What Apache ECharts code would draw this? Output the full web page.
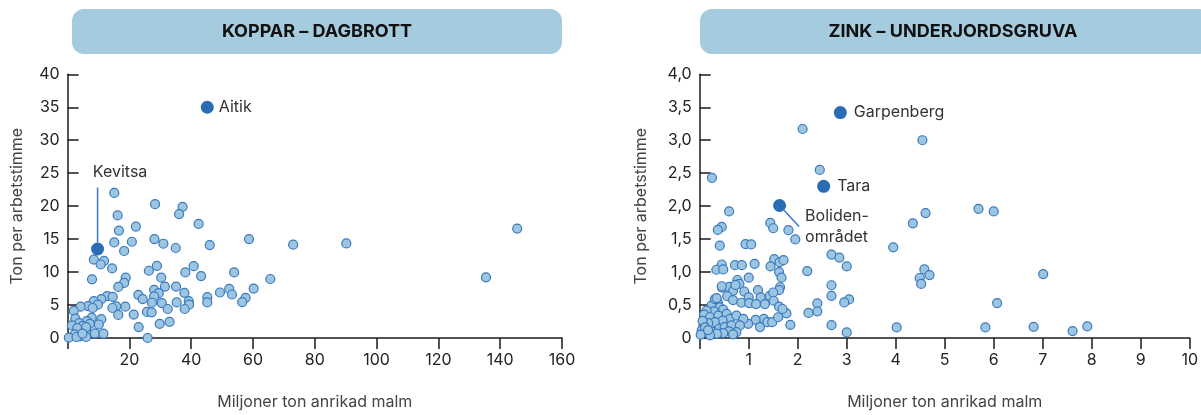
<!DOCTYPE html>
<html>
<head>
<meta charset="utf-8">
<script src="https://cdn.jsdelivr.net/npm/echarts@6/dist/echarts.min.js"></script>
<style>
html,body{margin:0;padding:0;background:#fff;}
#chart{width:1201px;height:415px;}
</style>
</head>
<body>
<div id="chart"></div>
<script>
// ---- Data ----
const copperTitle = 'KOPPAR – DAGBROTT';
const zincTitle = 'ZINK – UNDERJORDSGRUVA';
const xAxisName = 'Miljoner ton anrikad malm';
const yAxisName = 'Ton per arbetstimme';

const copperPoints = [
  [15.1,22.0],[28.3,20.3],[37.2,19.9],[36.1,18.8],[16.2,18.6],[42.4,17.3],[22.1,16.9],[16.6,16.3],
  [58.7,15.0],[28.1,15.0],[15.1,14.5],[20.8,14.6],[31.0,14.3],[46.0,14.1],[73.0,14.15],[35.0,13.65],
  [18.3,13.2],[8.5,11.9],[11.8,11.7],[10.7,11.15],[40.8,10.9],[28.9,10.95],[14.4,10.55],[26.3,10.2],
  [38.1,9.95],[53.9,9.95],[7.9,8.9],[43.2,9.4],[30.3,9.15],[18.8,9.15],[65.6,8.95],[18.3,8.35],
  [16.4,7.75],[31.5,7.8],[35.1,7.8],[60.2,7.5],[52.3,7.45],[28.0,7.3],[49.3,6.9],[37.8,6.85],
  [29.5,6.8],[53.2,6.6],[22.9,6.55],[12.8,6.35],[14.6,6.25],[28.0,6.3],[24.3,5.9],[45.2,6.2],
  [57.6,6.1],[10.9,5.9],[8.5,5.6],[39.2,5.6],[45.2,5.4],[35.3,5.4],[56.5,5.45],[27.3,5.35],
  [30.5,5.3],[9.8,5.05],[6.6,4.85],[4.2,4.75],[15.7,4.8],[18.7,4.75],[8.1,4.55],[39.3,5.05],
  [14.5,4.55],[32.4,4.4],[37.9,4.4],[2.0,4.1],[25.7,3.95],[27.2,3.9],[16.4,3.5],[21.4,3.55],
  [2.5,2.95],[7.8,3.1],[10.9,2.85],[6.2,2.55],[3.8,2.25],[7.2,2.15],[10.1,2.05],[33.0,2.45],
  [29.8,2.15],[23.0,1.65],[1.4,1.9],[4.9,1.85],[3.1,1.5],[6.0,1.1],[6.0,1.65],[2.3,0.55],
  [4.0,0.25],[8.8,0.7],[11.6,0.65],[6.0,0.15],[0.4,0.05],[2.9,0.15],[25.9,0],[4.8,0.65],
  [90.2,14.35],[135.4,9.2],[145.5,16.6]
];
const copperHighlightNames = ['Aitik','Kevitsa'];
const copperHighlightValues = [[45.2,35.0],[9.7,13.5]];

const zincPoints = [
  [2.10,3.17],[2.45,2.55],[0.25,2.43],[0.60,1.92],[1.44,1.745],[1.50,1.665],[1.81,1.635],[1.95,1.495],
  [0.45,1.685],[0.37,1.64],[0.41,1.40],[0.935,1.425],[1.05,1.42],[2.69,1.265],[2.85,1.22],[3.00,1.085],
  [1.52,1.195],[1.63,1.15],[1.71,1.18],[1.445,1.085],[1.12,1.125],[0.45,1.115],[0.34,1.035],[0.48,1.04],
  [0.72,1.105],[0.86,1.105],[1.62,1.00],[1.67,0.915],[2.195,1.015],[1.00,0.915],[0.77,0.88],[1.64,0.77],
  [1.62,0.725],[2.69,0.80],[2.69,0.64],[3.05,0.585],[2.95,0.54],[2.40,0.525],[2.40,0.405],[2.22,0.38],
  [2.69,0.195],[3.00,0.085],[1.85,0.20],[1.77,0.375],
  [0.455,0.765],[0.60,0.775],[0.68,0.715],[0.81,0.82],[0.73,0.805],[0.91,0.705],[0.56,0.635],[0.68,0.575],
  [0.85,0.535],[1.19,0.725],[1.245,0.615],[1.00,0.615],[1.01,0.53],[1.15,0.515],[1.33,0.515],[1.43,0.64],
  [1.50,0.69],[1.51,0.565],[1.62,0.475],[1.69,0.44],[1.31,0.29],[1.14,0.275],[0.99,0.215],[1.23,0.165],
  [1.38,0.24],[1.48,0.24],[1.60,0.315],
  [0.37,0.535],[0.24,0.49],[0.41,0.465],[0.48,0.43],[0.29,0.405],[0.14,0.415],[0.09,0.355],[0.21,0.315],
  [0.38,0.34],[0.55,0.365],[0.62,0.29],[0.47,0.265],[0.31,0.24],[0.175,0.225],[0.075,0.19],[0.04,0.115],
  [0.13,0.09],[0.28,0.09],[0.40,0.14],[0.51,0.165],[0.65,0.19],[0.75,0.34],[0.89,0.29],[0.82,0.19],
  [0.75,0.09],[0.60,0.10],[0.48,0.075],[0.35,0.065],[0.21,0.04],[0.68,0.055],[0.31,0.59],[0.345,0.605],
  [0.45,0.785],[0.06,0.26],[0.11,0.16],[0.02,0.05],[0.17,0.12],
  [4.545,3.0],[4.61,1.895],[4.35,1.74],[5.69,1.96],[6.00,1.92],[3.95,1.375],[4.585,1.04],[4.49,0.91],
  [4.69,0.955],[4.52,0.82],[7.01,0.97],[6.07,0.53],[4.02,0.16],[5.83,0.16],[6.815,0.17],[7.61,0.105],[7.91,0.175]
];
const zincHighlightNames = ['Garpenberg','Tara','Boliden-\nområdet'];
const zincHighlightValues = [[2.87,3.42],[2.53,2.30],[1.63,2.01]];

// ---- Styles ----
const FONT = 'Inter';
const dotStyle = {color:'#9cc5e0', borderColor:'#3a79c1', borderWidth:1.2, opacity:1};
const hiStyle = {color:'#2a6cb5', opacity:1};
const axisLineStyle = {color:'#1a1a1a', width:1.5};

function xAx(gridIndex, max, interval){
  return {
    type:'value', gridIndex, min:0, max, interval,
    name:xAxisName, nameLocation:'middle', nameGap:56,
    nameTextStyle:{fontFamily:FONT, fontSize:16, color:'#444'},
    axisLine:{show:true, onZero:false, lineStyle:axisLineStyle},
    axisTick:{show:true, inside:false, length:11, lineStyle:axisLineStyle},
    axisLabel:{margin:14, fontFamily:FONT, fontSize:16, color:'#222',
      formatter:v=> v===0 ? '' : String(v)},
    splitLine:{show:false}
  };
}
function yAx(gridIndex, max, interval, fmt, gap){
  return {
    type:'value', gridIndex, min:0, max, interval,
    name:yAxisName, nameLocation:'middle', nameGap:gap,
    nameTextStyle:{fontFamily:FONT, fontSize:16, color:'#444'},
    axisLine:{show:true, onZero:false, lineStyle:axisLineStyle},
    axisTick:{show:true, inside:true, length:11, lineStyle:axisLineStyle},
    axisLabel:{margin:8, fontFamily:FONT, fontSize:16, color:'#222', formatter:fmt},
    splitLine:{show:false}
  };
}

const labelText = {fontFamily:FONT, fontSize:16, color:'#333'};
const leader = {show:true, lineStyle:{color:'#3a79c1', width:1.5}};

const copperHi = copperHighlightNames.map((n,i)=>{
  const d = {name:n, value:copperHighlightValues[i]};
  if (i===0) d.label = {show:true, position:'right', distance:5, formatter:'{b}', ...labelText};
  if (i===1) {
    d.label = {show:true, position:'top', distance:5, formatter:'{gap|}{t|{b}}',
      rich:{gap:{width:45, height:30, lineHeight:30}, t:{...labelText, lineHeight:30}}, ...labelText};
    d.labelLine = leader;
  }
  return d;
});
const zincHi = zincHighlightNames.map((n,i)=>{
  const d = {name:n, value:zincHighlightValues[i]};
  if (i<2) d.label = {show:true, position:'right', distance:7, formatter:'{b}', ...labelText};
  else {
    d.label = {show:true, position:'right', distance:13, formatter:'{b}', padding:[0,0,0,6], lineHeight:21, ...labelText};
    d.labelLine = leader;
  }
  return d;
});

const chart = echarts.init(document.getElementById('chart'), null, {renderer:'canvas'});
chart.setOption({
  animation:false,
  backgroundColor:'#fff',
  grid:[
    {left:67.6, top:74.3, width:494.4, height:266.7},
    {left:699.7, top:74.3, width:492, height:266.7}
  ],
  xAxis:[ xAx(0,160,20), xAx(1,10,1) ],
  yAxis:[
    yAx(0,40,5, v=>String(v), 42),
    yAx(1,4,0.5, v=> v===0 ? '0' : v.toFixed(1).replace('.',','), 51)
  ],
  graphic:[
    {type:'rect', x:72, y:9, shape:{width:490, height:45, r:12}, style:{fill:'#a5cbdf'}, z:0},
    {type:'text', x:317, y:32, style:{text:copperTitle, align:'center', verticalAlign:'middle', font:'bold 18px Inter', fill:'#111'}, z:1},
    {type:'rect', x:700, y:9, shape:{width:510, height:45, r:12}, style:{fill:'#a5cbdf'}, z:0},
    {type:'text', x:953, y:32, style:{text:zincTitle, align:'center', verticalAlign:'middle', font:'bold 18px Inter', fill:'#111'}, z:1}
  ],
  series:[
    {type:'scatter', xAxisIndex:0, yAxisIndex:0, data:copperPoints, symbolSize:9, itemStyle:dotStyle, silent:true},
    {type:'scatter', xAxisIndex:0, yAxisIndex:0, data:copperHi, symbolSize:13, itemStyle:hiStyle, silent:true, z:3,
      labelLayout: p => p.dataIndex===1 ? {dy:-50} : {}},
    {type:'scatter', xAxisIndex:1, yAxisIndex:1, data:zincPoints, symbolSize:9, itemStyle:dotStyle, silent:true},
    {type:'scatter', xAxisIndex:1, yAxisIndex:1, data:zincHi, symbolSize:13, itemStyle:hiStyle, silent:true, z:3,
      labelLayout: p => p.dataIndex===2 ? {dy:21} : {}}
  ]
});
</script>
</body>
</html>
